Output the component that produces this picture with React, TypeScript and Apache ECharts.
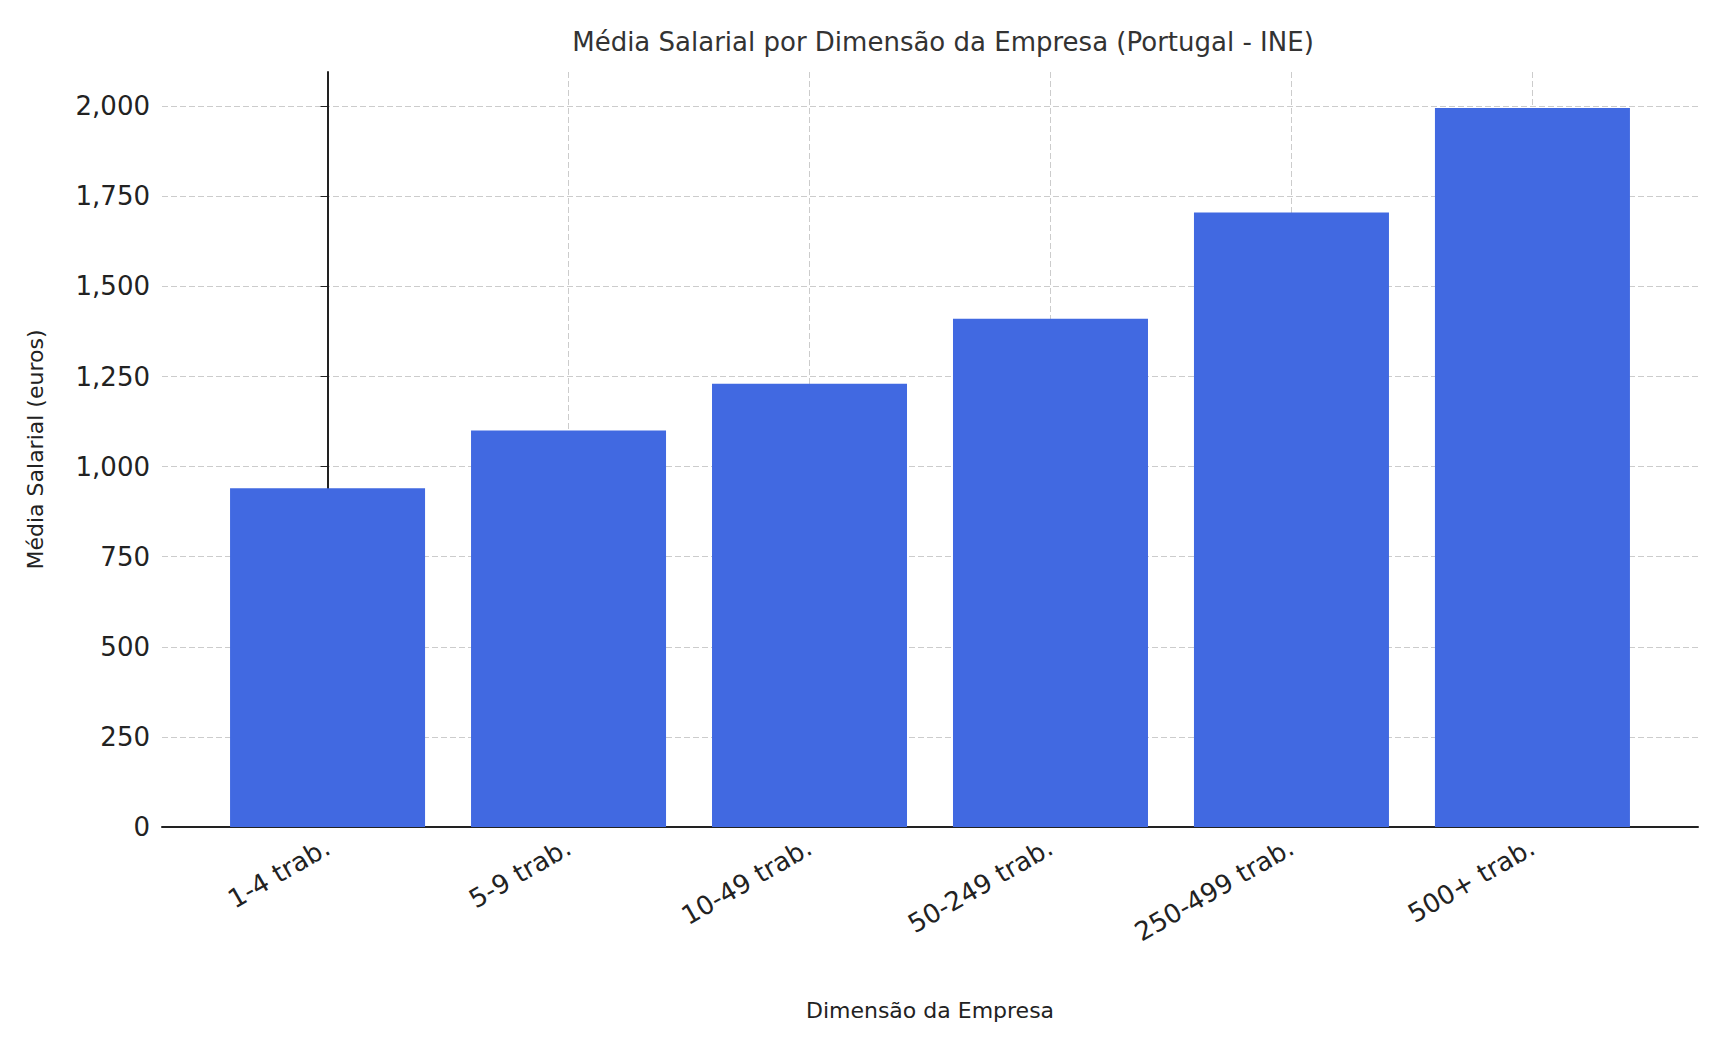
import { useRef, useEffect } from 'react'
import * as echarts from 'echarts'

const categories = ['1-4 trab.', '5-9 trab.', '10-49 trab.', '50-249 trab.', '250-499 trab.', '500+ trab.'];
const salaries = [940, 1100, 1230, 1410, 1705, 1995];
const yTicks = [0, 250, 500, 750, 1000, 1250, 1500, 1750, 2000];

function App() {
  const chartRef = useRef<HTMLDivElement>(null);

  useEffect(() => {
    if (!chartRef.current) return;
    const chart = echarts.init(chartRef.current, null, { renderer: 'svg' });
    const font = 'DejaVu Sans';
    const idx = categories.map((_, i) => i);
    chart.setOption({
      animation: false,
      textStyle: { fontFamily: font },
      title: {
        text: 'Média Salarial por Dimensão da Empresa (Portugal - INE)',
        left: 930, top: 16, textAlign: 'center',
        textStyle: { fontFamily: font, fontSize: 26, fontWeight: 'normal', color: '#333' }
      },
      grid: { left: 154, right: 17, top: 64, bottom: 211 },
      xAxis: {
        type: 'value', min: -0.687, max: 5.687,
        name: 'Dimensão da Empresa', nameLocation: 'middle', nameGap: 172,
        nameTextStyle: { fontSize: 22, color: '#222' },
        axisLine: { show: true, lineStyle: { color: '#222', width: 2 } },
        axisTick: { show: true, customValues: idx, length: 7, inside: true, lineStyle: { color: '#222' } },
        axisLabel: {
          customValues: idx, rotate: 30, fontSize: 26, color: '#222', margin: 18,
          formatter: (v: number) => categories[Math.round(v)]
        },
        splitLine: { show: true, lineStyle: { color: '#ccc', type: [6, 3] } }
      },
      yAxis: {
        type: 'value', min: 0, max: 2095,
        name: 'Média Salarial (euros)', nameLocation: 'middle', nameGap: 116,
        nameTextStyle: { fontSize: 22, color: '#222' },
        axisLine: { show: true, lineStyle: { color: '#222', width: 2 } },
        axisTick: { show: true, customValues: yTicks, length: 7, lineStyle: { color: '#222' } },
        axisLabel: { customValues: yTicks, fontSize: 26, color: '#222', margin: 12 },
        splitLine: { show: true, lineStyle: { color: '#ccc', type: [6, 3] } }
      },
      series: [{
        type: 'bar',
        barWidth: 195,
        itemStyle: { color: '#4169e1' },
        z: 1,
        data: salaries.map((v, i) => [i, v])
      }]
    });
    return () => chart.dispose();
  }, []);

  return <div ref={chartRef} style={{ width: '1707px', height: '1030px' }}></div>
}

export default App
